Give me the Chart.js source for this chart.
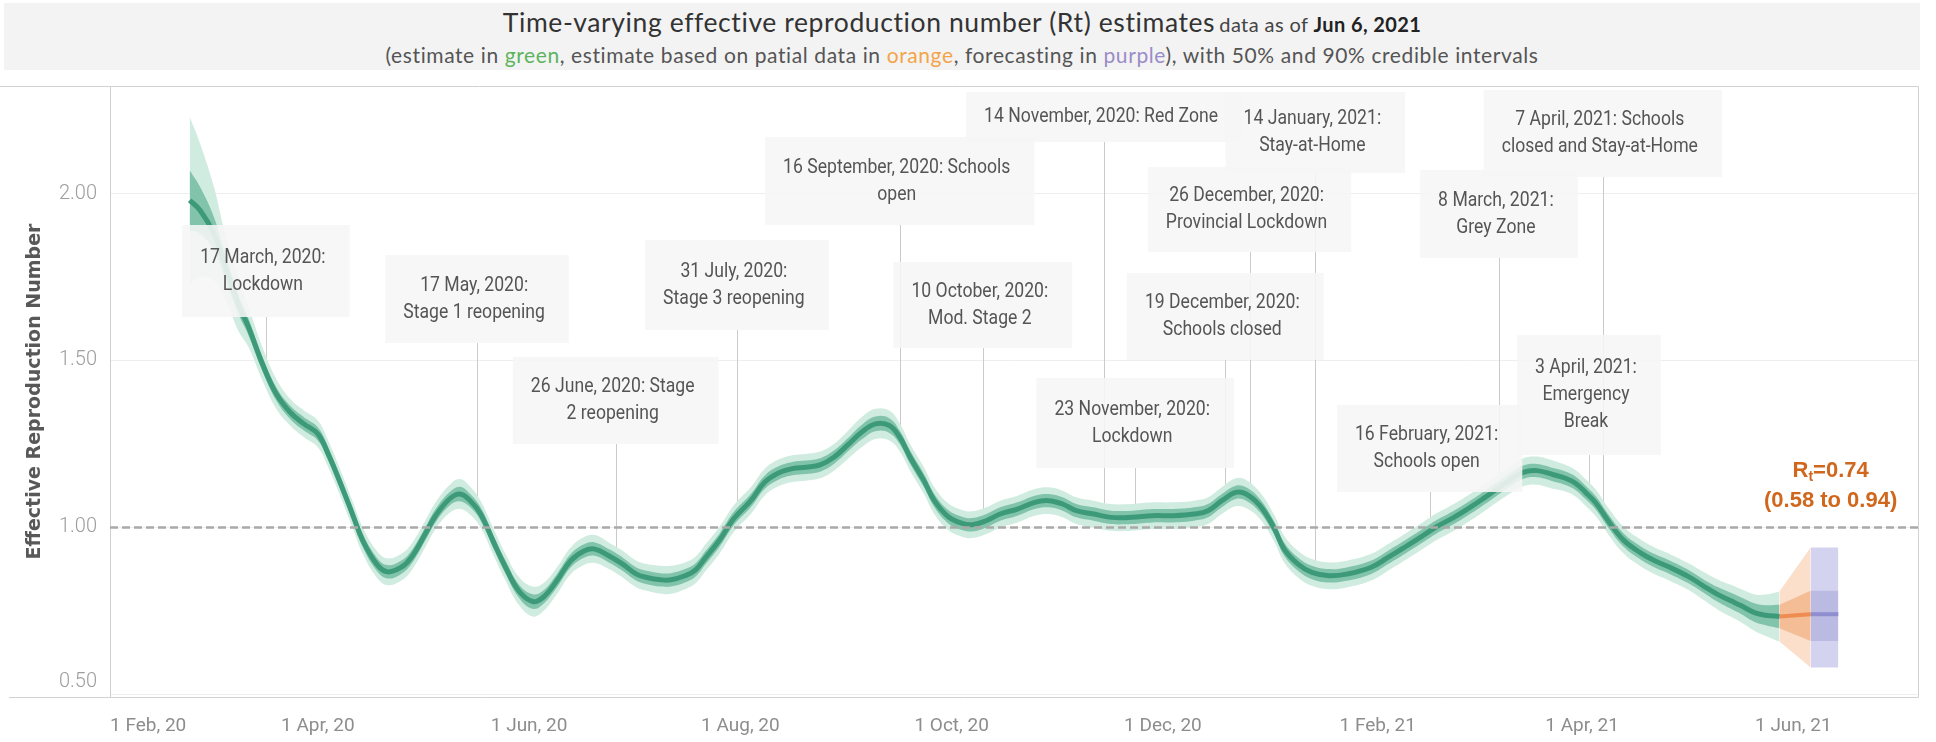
<!DOCTYPE html>
<html>
<head>
<meta charset="utf-8">
<title>Time-varying effective reproduction number (Rt)</title>
<script src="https://cdn.jsdelivr.net/npm/chart.js@4.4.0/dist/chart.umd.min.js"></script>
<style>
  html, body { margin: 0; padding: 0; background: #fff; }
  #wrap { position: relative; width: 1936px; height: 742px; overflow: hidden; }
  #rt { position: absolute; left: 0; top: 0; }
  #head { position: absolute; left: 4px; top: 3px; width: 1916px; height: 67px; background: #f3f3f3; z-index: 2; }
  #t1 { position: absolute; left: 0; right: 0; top: 4px; text-align: center; white-space: nowrap;
        font-family: Lato, "Open Sans", sans-serif; color: #333; line-height: 30px; }
  #t1 .big { font-size: 26.5px; letter-spacing: 0.6px; }
  #t1 .sm { font-size: 20px; color: #444; letter-spacing: 0.4px; }
  #t1 b.sm { color: #222; }
  #t2 { position: absolute; left: 0; right: 0; top: 40px; text-align: center; white-space: nowrap;
        font-family: Lato, "Open Sans", sans-serif; font-size: 21px; letter-spacing: 0.6px; color: #555; line-height: 24px; }
</style>
</head>
<body>
<div id="wrap">
  <div id="head">
    <div id="t1"><span class="big">Time-varying effective reproduction number (Rt) estimates</span> <span class="sm">data as of </span><b class="sm">Jun 6, 2021</b></div>
    <div id="t2">(estimate in <span style="color:#5cb35c">green</span>, estimate based on patial data in <span style="color:#f3a449">orange</span>, forecasting in <span style="color:#9a8cc8">purple</span>), with 50% and 90% credible intervals</div>
  </div>
  <canvas id="rt" width="1936" height="742"></canvas>
</div>
<script>
// Days are counted from 1 Feb 2020.
const BASE = Date.UTC(2020, 1, 1);
const toDay = iso => (Date.parse(iso + 'T00:00:00Z') - BASE) / 86400000;

// Estimated Rt (green) with half-widths of the 50% and 90% credible intervals
const estDay = [
  23, 26, 30, 33, 37, 40, 44, 48, 52, 56,
  60, 63, 67, 70, 73, 77, 80, 84, 87, 91,
  94, 98, 101, 104, 107, 111, 114, 118, 122, 125,
  129, 133, 137, 140, 144, 148, 152, 155, 159, 162,
  166, 169, 172, 176, 180, 185, 189, 193, 197, 201,
  205, 209, 213, 217, 221, 225, 228, 231, 235, 238,
  242, 246, 249, 253, 257, 262, 267, 271, 275, 279,
  284, 289, 295, 301, 307, 313, 317, 321, 325, 328,
  332, 336, 339, 343, 347, 352, 357, 364, 369, 374,
  379, 383, 388, 393, 397, 400, 404, 408, 412, 417,
  420, 423, 426, 429, 433, 437, 442, 446, 450, 456,
  460, 464, 468, 471, 475, 478, 482
];
const estRt = [
  1.98, 1.95, 1.88, 1.79, 1.67, 1.60, 1.49, 1.40, 1.345, 1.31,
  1.28, 1.22, 1.12, 1.04, 0.96, 0.89, 0.867, 0.88, 0.91, 0.98,
  1.035, 1.085, 1.10, 1.08, 1.04, 0.95, 0.885, 0.81, 0.778, 0.79,
  0.84, 0.90, 0.93, 0.935, 0.915, 0.89, 0.86, 0.85, 0.843, 0.843,
  0.855, 0.872, 0.91, 0.962, 1.025, 1.08, 1.135, 1.163, 1.176, 1.18,
  1.187, 1.21, 1.247, 1.285, 1.31, 1.305, 1.27, 1.21, 1.14, 1.08,
  1.032, 1.012, 1.008, 1.02, 1.04, 1.055, 1.075, 1.08, 1.07, 1.05,
  1.04, 1.03, 1.03, 1.035, 1.035, 1.04, 1.05, 1.08, 1.105, 1.10,
  1.065, 1.00, 0.935, 0.89, 0.865, 0.855, 0.86, 0.88, 0.91, 0.942,
  0.975, 1.002, 1.03, 1.062, 1.09, 1.112, 1.14, 1.165, 1.17, 1.157,
  1.148, 1.133, 1.105, 1.073, 1.013, 0.962, 0.923, 0.90, 0.882, 0.851,
  0.825, 0.80, 0.78, 0.765, 0.744, 0.737, 0.733
];
const estW50 = [
  0.09, 0.07, 0.05, 0.04, 0.03, 0.025, 0.022, 0.02, 0.02, 0.02,
  0.02, 0.02, 0.02, 0.02, 0.02, 0.02, 0.02, 0.02, 0.02, 0.02,
  0.02, 0.02, 0.022, 0.02, 0.02, 0.02, 0.02, 0.02, 0.022, 0.02,
  0.02, 0.02, 0.02, 0.02, 0.02, 0.02, 0.02, 0.02, 0.02, 0.02,
  0.02, 0.02, 0.02, 0.02, 0.02, 0.02, 0.02, 0.02, 0.02, 0.02,
  0.02, 0.02, 0.02, 0.022, 0.022, 0.022, 0.02, 0.02, 0.02, 0.02,
  0.02, 0.02, 0.02, 0.02, 0.02, 0.02, 0.02, 0.02, 0.02, 0.02,
  0.02, 0.02, 0.02, 0.02, 0.02, 0.02, 0.02, 0.02, 0.02, 0.02,
  0.02, 0.02, 0.02, 0.02, 0.02, 0.02, 0.02, 0.02, 0.02, 0.02,
  0.02, 0.02, 0.02, 0.02, 0.02, 0.02, 0.02, 0.02, 0.02, 0.02,
  0.02, 0.02, 0.02, 0.02, 0.02, 0.02, 0.02, 0.02, 0.02, 0.02,
  0.02, 0.022, 0.024, 0.025, 0.028, 0.03, 0.035
];
const estW90 = [
  0.25, 0.20, 0.14, 0.10, 0.08, 0.06, 0.05, 0.045, 0.04, 0.04,
  0.04, 0.04, 0.04, 0.04, 0.04, 0.04, 0.04, 0.04, 0.04, 0.04,
  0.04, 0.042, 0.045, 0.042, 0.04, 0.04, 0.04, 0.042, 0.045, 0.042,
  0.04, 0.04, 0.042, 0.042, 0.04, 0.04, 0.04, 0.04, 0.042, 0.042,
  0.04, 0.04, 0.04, 0.04, 0.04, 0.04, 0.04, 0.04, 0.04, 0.04,
  0.04, 0.04, 0.042, 0.045, 0.045, 0.045, 0.042, 0.04, 0.04, 0.04,
  0.04, 0.04, 0.04, 0.04, 0.04, 0.04, 0.04, 0.04, 0.04, 0.04,
  0.04, 0.04, 0.04, 0.04, 0.04, 0.04, 0.04, 0.04, 0.042, 0.042,
  0.04, 0.04, 0.04, 0.04, 0.04, 0.04, 0.04, 0.04, 0.04, 0.04,
  0.04, 0.04, 0.04, 0.04, 0.04, 0.04, 0.04, 0.042, 0.042, 0.042,
  0.04, 0.04, 0.04, 0.04, 0.04, 0.04, 0.04, 0.04, 0.04, 0.04,
  0.042, 0.045, 0.048, 0.05, 0.055, 0.062, 0.075
];

// Estimate based on partial data (orange)
const partialDay  = [482, 491];
const partialRt   = [0.733, 0.74];
const partialLo50 = [0.698, 0.66];
const partialHi50 = [0.768, 0.81];
const partialLo90 = [0.658, 0.58];
const partialHi90 = [0.808, 0.94];

// Forecast (purple)
const fcDay  = [491, 499];
const fcRt   = [0.74, 0.74];
const fcLo50 = [0.66, 0.66];
const fcHi50 = [0.81, 0.81];
const fcLo90 = [0.58, 0.58];
const fcHi90 = [0.94, 0.94];

// Axis ticks
const xTickDates  = ['2020-02-01', '2020-04-01', '2020-06-01', '2020-08-01', '2020-10-01',
                     '2020-12-01', '2021-02-01', '2021-04-01', '2021-06-01'];
const xTickLabels = ['1 Feb, 20', '1 Apr, 20', '1 Jun, 20', '1 Aug, 20', '1 Oct, 20',
                     '1 Dec, 20', '1 Feb, 21', '1 Apr, 21', '1 Jun, 21'];
const yTicks = [0.5, 1.0, 1.5, 2.0];

// Policy events: date, label lines, Rt where the leader meets the curve
const eventDates = ['2020-03-17', '2020-05-17', '2020-06-26', '2020-07-31', '2020-09-16',
                    '2020-10-10', '2020-11-14', '2020-11-23', '2020-12-19', '2020-12-26',
                    '2021-01-14', '2021-02-16', '2021-03-08', '2021-04-07', '2021-04-03'];
const eventText = [
  ['17 March, 2020:', 'Lockdown'],
  ['17 May, 2020:', 'Stage 1 reopening'],
  ['26 June, 2020: Stage', '2 reopening'],
  ['31 July, 2020:', 'Stage 3 reopening'],
  ['16 September, 2020: Schools', 'open'],
  ['10 October, 2020:', 'Mod. Stage 2'],
  ['14 November, 2020: Red Zone'],
  ['23 November, 2020:', 'Lockdown'],
  ['19 December, 2020:', 'Schools closed'],
  ['26 December, 2020:', 'Provincial Lockdown'],
  ['14 January, 2021:', 'Stay-at-Home'],
  ['16 February, 2021:', 'Schools open'],
  ['8 March, 2021:', 'Grey Zone'],
  ['7 April, 2021: Schools', 'closed and Stay-at-Home'],
  ['3 April, 2021:', 'Emergency', 'Break']
];
const eventRt = [1.47, 1.05, 0.92, 1.04, 1.27, 1.015, 1.03, 1.03, 1.08, 1.09, 0.865, 0.99, 1.11, 1.05, 1.10];

// Callout placement (top and bottom edge of each box, in canvas pixels)
const calloutTop    = [225, 255, 357, 240, 137, 262, 92, 378, 273, 167, 92, 405, 170, 90, 335];
const calloutBottom = [317, 343, 444, 330, 225, 348, 142, 468, 360, 252, 173, 492, 258, 177, 455];

const pts = (xs, ys) => xs.map((d, i) => ({ x: d, y: ys[i] }));
const estLo50 = estRt.map((v, i) => v - estW50[i]);
const estHi50 = estRt.map((v, i) => v + estW50[i]);
const estLo90 = estRt.map((v, i) => v - estW90[i]);
const estHi90 = estRt.map((v, i) => v + estW90[i]);

const band = (data, color, order, tension, fillTo) => ({
  data, borderWidth: 0, pointRadius: 0, tension,
  backgroundColor: color, fill: fillTo, order
});

const datasets = [
  band(pts(estDay, estHi90), '#d0ece1', 6, 0.4, '+1'),
  band(pts(estDay, estLo90), 'transparent', 6, 0.4, false),
  band(pts(estDay, estHi50), '#82c4ab', 5, 0.4, '+1'),
  band(pts(estDay, estLo50), 'transparent', 5, 0.4, false),
  band(pts(partialDay, partialHi90), 'rgba(249,212,184,0.75)', 4, 0, '+1'),
  band(pts(partialDay, partialLo90), 'transparent', 4, 0, false),
  band(pts(partialDay, partialHi50), '#f4bd96', 3, 0, '+1'),
  band(pts(partialDay, partialLo50), 'transparent', 3, 0, false),
  band(pts(fcDay, fcHi90), '#d3d3ef', 4, 0, '+1'),
  band(pts(fcDay, fcLo90), 'transparent', 4, 0, false),
  band(pts(fcDay, fcHi50), '#babae2', 3, 0, '+1'),
  band(pts(fcDay, fcLo50), 'transparent', 3, 0, false),
  { data: pts(estDay, estRt), borderColor: '#3c9a7a', borderWidth: 5, pointRadius: 0,
    tension: 0.4, fill: false, order: 1, borderCapStyle: 'butt' },
  { data: pts(partialDay, partialRt), borderColor: '#ee8c52', borderWidth: 4, pointRadius: 0,
    tension: 0, fill: false, order: 1 },
  { data: pts(fcDay, fcRt), borderColor: '#8f8fcf', borderWidth: 4, pointRadius: 0,
    tension: 0, fill: false, order: 1 }
];

const SQUEEZE = 0.88;

// Pane frame, reference line, event callouts and the latest-estimate label
const decorations = {
  id: 'decorations',
  beforeDatasetsDraw(chart) {
    const { ctx, scales: { x, y } } = chart;
    ctx.save();
    ctx.strokeStyle = '#cbcbcb';
    ctx.lineWidth = 1;
    eventDates.forEach((d, i) => {
      const px = Math.round(x.getPixelForValue(toDay(d))) + 0.5;
      ctx.beginPath();
      ctx.moveTo(px, calloutBottom[i]);
      ctx.lineTo(px, y.getPixelForValue(eventRt[i]));
      ctx.stroke();
    });
    ctx.restore();
  },
  afterDatasetsDraw(chart) {
    const { ctx, chartArea: a, scales: { x, y } } = chart;
    ctx.save();
    // Rt = 1 threshold
    const y1 = Math.round(y.getPixelForValue(1)) + 0.5;
    ctx.strokeStyle = '#a9a9a9';
    ctx.lineWidth = 2.5;
    ctx.setLineDash([8, 4]);
    ctx.beginPath();
    ctx.moveTo(a.left, y1);
    ctx.lineTo(a.right, y1);
    ctx.stroke();
    ctx.setLineDash([]);

    // callout boxes
    ctx.font = '20px Roboto';
    ctx.textAlign = 'center';
    ctx.textBaseline = 'middle';
    eventText.forEach((lines, i) => {
      const cx = x.getPixelForValue(toDay(eventDates[i]));
      const w = Math.max(...lines.map(t => ctx.measureText(t).width)) * SQUEEZE + 42;
      const top = calloutTop[i], bot = calloutBottom[i];
      ctx.fillStyle = 'rgba(246,246,246,0.88)';
      ctx.fillRect(cx - w / 2, top, w, bot - top);
      ctx.fillStyle = '#555555';
      const mid = (top + bot) / 2;
      lines.forEach((t, k) => {
        const ty = mid + (k - (lines.length - 1) / 2) * 27;
        ctx.save();
        ctx.translate(cx - 3, ty);
        ctx.scale(SQUEEZE, 1);
        ctx.fillText(t, 0, 0);
        ctx.restore();
      });
    });
    ctx.restore();
  },
  afterDraw(chart) {
    const { ctx, chartArea: a, scales: { x, y } } = chart;
    ctx.save();
    // pane frame
    ctx.strokeStyle = '#d2d2d2';
    ctx.lineWidth = 1;
    ctx.beginPath();
    ctx.moveTo(0, a.top + 0.5); ctx.lineTo(a.right + 0.5, a.top + 0.5);
    ctx.lineTo(a.right + 0.5, a.bottom + 0.5); ctx.lineTo(9, a.bottom + 0.5);
    ctx.stroke();

    // latest estimate
    const last = partialRt.length - 1;
    const cx = x.getPixelForValue(partialDay[last]) + 20;
    const yTop = y.getPixelForValue(1) - 56;
    ctx.fillStyle = '#d0671d';
    ctx.textBaseline = 'middle';
    ctx.font = 'bold 22px "Liberation Sans", Arial, sans-serif';
    const rest = '=' + partialRt[last].toFixed(2);
    const wR = ctx.measureText('R').width, wRest = ctx.measureText(rest).width;
    ctx.font = 'bold 14px "Liberation Sans", Arial, sans-serif';
    const wt = ctx.measureText('t').width;
    const sx = cx - (wR + wt + wRest) / 2;
    ctx.textAlign = 'left';
    ctx.font = 'bold 22px "Liberation Sans", Arial, sans-serif';
    ctx.fillText('R', sx, yTop);
    ctx.font = 'bold 14px "Liberation Sans", Arial, sans-serif';
    ctx.fillText('t', sx + wR, yTop + 6);
    ctx.font = 'bold 22px "Liberation Sans", Arial, sans-serif';
    ctx.fillText(rest, sx + wR + wt, yTop);
    ctx.textAlign = 'center';
    ctx.fillText('(' + partialLo90[last].toFixed(2) + ' to ' + partialHi90[last].toFixed(2) + ')', cx, yTop + 30);
    ctx.restore();
  }
};

Chart.defaults.font.family = 'Roboto, "Open Sans", sans-serif';

new Chart(document.getElementById('rt'), {
  type: 'line',
  data: { datasets },
  options: {
    responsive: false,
    devicePixelRatio: 1,
    animation: false,
    layout: { padding: { top: 86, right: 6, left: 0, bottom: 0 } },
    plugins: { legend: { display: false }, tooltip: { enabled: false } },
    scales: {
      x: {
        type: 'linear', min: 0, max: 522,
        afterBuildTicks: s => {
          s.ticks = xTickDates.map(d => ({ value: toDay(d) })).concat([{ value: 522 }]);
        },
        afterFit: s => { s.height = 45; },
        ticks: {
          autoSkip: false, maxRotation: 0, minRotation: 0, align: 'inner', padding: 18,
          color: '#8d8d8d', font: { size: 19 },
          callback: (v, i) => xTickLabels[i] || ''
        },
        grid: { display: false, drawTicks: false },
        border: { display: false }
      },
      y: {
        min: 0.492, max: 2.322,
        afterBuildTicks: s => { s.ticks = yTicks.map(v => ({ value: v })); },
        afterFit: s => { s.width = 110; },
        ticks: {
          padding: 13, color: '#9d9d9d', font: { size: 20, weight: '300' },
          // the lowest label sits just inside the pane, above its tick
          callback: (v, i) => i === 0 ? [Number(v).toFixed(2), ''] : Number(v).toFixed(2)
        },
        grid: { color: '#eeeeee', drawTicks: false, lineWidth: 1 },
        border: { display: true, color: '#d0d0d0' },
        title: {
          display: true, text: 'Effective Reproduction Number', color: '#585858',
          font: { family: '"DejaVu Sans", sans-serif', size: 19, weight: 'bold' },
          padding: { top: 24, bottom: 0 }
        }
      }
    }
  },
  plugins: [decorations]
});
</script>
</body>
</html>
